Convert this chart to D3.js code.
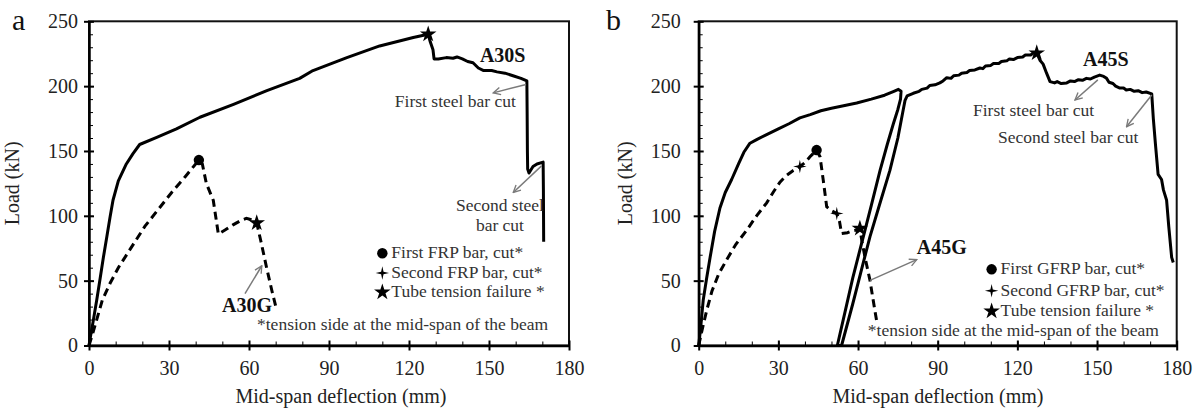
<!DOCTYPE html>
<html>
<head>
<meta charset="utf-8">
<script src="https://cdn.jsdelivr.net/npm/d3@7"></script>
<style>
  body { margin: 0; background: #fff; }
  svg { display: block; font-family: "Liberation Serif", "Times New Roman", serif; }
  .axis path, .axis line { stroke: #000; }
  .axis text { font-family: "Liberation Serif", serif; font-size: 20px; fill: #222; }
</style>
</head>
<body>
<svg class="main" width="1198" height="413"></svg>
<script>
// ticks
const xTickValues = [0, 30, 60, 90, 120, 150, 180];
const yTickValues = [0, 50, 100, 150, 200, 250];

// panel a: load (kN) vs mid-span deflection (mm)
const a30s = [
  [0, 0], [0.8, 10], [1.5, 18], [2.9, 35], [4.2, 52], [5.4, 68], [6.7, 84], [7.9, 99],
  [9, 112], [11, 127], [14, 140], [16.5, 148], [19, 155], [25.4, 160.5], [32.8, 167],
  [41.6, 176], [54.2, 186], [66.7, 196.5], [79, 206], [84, 212], [96.7, 222], [109, 231],
  [121.6, 237.5], [127.2, 240], [128, 234], [129, 228], [129.4, 221], [131, 221],
  [134, 222], [136.5, 221.5], [138, 222.5], [140, 221], [142, 219], [144, 218],
  [146, 214], [148, 212], [151, 212], [153, 211], [156, 210], [159, 208], [162, 206],
  [164.2, 204], [164.3, 180], [164.4, 150], [164.5, 136], [165, 133], [166.5, 138],
  [168, 140], [170.3, 141.4], [170.4, 120], [170.5, 80]
];
const a30g = [
  [0, 0], [1.5, 10], [2.9, 20], [5, 35], [7.9, 48], [11, 60], [16.6, 78], [21, 92],
  [26, 105], [31, 118], [36, 130], [41.2, 143], [42.5, 140], [44, 125], [46.6, 112],
  [48.5, 86], [51, 89], [54, 93], [57, 96.5], [59, 98], [61, 97], [62.9, 94.5],
  [64.5, 80], [66.6, 60], [68.5, 43], [70.4, 27]
];
const a30Markers = [
  { type: "star", x: 127.2, y: 240 },
  { type: "circle", x: 41.2, y: 143 },
  { type: "star", x: 62.9, y: 94.5 }
];

// panel b
const a45s = [
  [0, 0], [0.8, 15], [1.7, 35], [3, 52], [4.3, 68], [6, 88], [8, 106], [10, 118],
  [12.4, 128], [15, 140], [17, 149], [19.3, 156], [22, 159], [25, 162], [30, 167],
  [34, 171], [38.1, 175.5], [42, 178], [46, 181], [50, 183], [55, 185], [59.5, 187],
  [65, 190], [70, 193], [73.5, 196], [75.2, 197.5], [76.2, 196], [76, 190], [75, 182],
  [73.3, 171], [71, 155], [68.3, 135], [65, 108], [62, 84], [58, 52], [55, 25],
  [52.2, 0], [53.8, 0], [58, 32], [61, 56], [64.5, 84], [68, 108], [72, 135], [75, 160],
  [77, 181.6], [77.7, 189], [78.5, 192.5], [80.8, 194.5], [83, 196], [84, 197.5],
  [86, 198.5], [87, 200.5], [89, 201], [90.8, 202.5], [92, 204], [93.4, 206.5],
  [95, 206], [96, 208], [98, 208.5], [99, 210], [101, 210.5], [102, 212], [104, 212.5],
  [105.9, 214], [107, 213.5], [108, 215.5], [110, 216], [111, 217.5], [113, 217.5],
  [114, 219], [116, 219.5], [117, 221], [118.5, 220.5], [120, 222], [122, 222.5],
  [123, 224], [125, 224], [126, 225.5], [127.3, 225.5], [128.5, 220], [129.7, 217],
  [131, 210], [132.3, 203.5], [134, 202.5], [135, 203.5], [136.5, 202], [138.6, 202.5],
  [140, 204], [141.5, 203.5], [143, 205], [144.5, 204.5], [146, 206], [147.5, 205.5],
  [149, 207], [151, 208.5], [152.5, 207.5], [153.6, 206], [154.5, 203], [156, 202],
  [157, 200], [158.6, 198.5], [160, 198.5], [161, 197], [162.5, 197.5], [164, 196],
  [165.5, 196.5], [167, 195], [168.5, 195.5], [170.6, 194], [171.2, 175], [172, 155],
  [173, 132], [174.3, 128], [175, 120], [176.2, 112], [177, 92], [178.1, 68], [178.7, 64]
];
const a45g = [
  [0, 0], [1.5, 14], [3, 27], [5, 42], [7.5, 55], [10.5, 66], [14, 78], [18.1, 89],
  [21.8, 100], [25.6, 110], [28, 118], [30.6, 126], [33, 131], [35.6, 135], [38.1, 138],
  [40, 141], [41.9, 145.5], [44.4, 150.7], [45.7, 145.5], [46.9, 127.5], [48.2, 107],
  [50, 104], [52, 101.8], [53, 96], [53.8, 86.3], [56, 87], [58, 88.5], [59.5, 89],
  [60.7, 90.2], [61.5, 80], [62.6, 68.3], [64.5, 50.2], [65.7, 35], [67, 19]
];
const a45Markers = [
  { type: "star", x: 127.3, y: 225.5 },
  { type: "circle", x: 44.4, y: 150.7 },
  { type: "plus", x: 38.1, y: 138 },
  { type: "plus", x: 52, y: 101.8 },
  { type: "star", x: 60.7, y: 90.2 }
];

const legendA = ["First FRP bar, cut*", "Second FRP bar, cut*", "Tube tension failure *"];
const legendB = ["First GFRP bar, cut*", "Second GFRP bar, cut*", "Tube tension failure *"];
const footNote = "*tension side at the mid-span of the beam";

const serif = "Liberation Serif, Times New Roman, serif";

// thin four pointed star used for "second bar cut"
const symbolSparkle = {
  draw(ctx, size) {
    const r = Math.sqrt(size) * 0.8;
    const w = r * 0.18;
    ctx.moveTo(0, -r);
    ctx.lineTo(w, -w);
    ctx.lineTo(r, 0);
    ctx.lineTo(w, w);
    ctx.lineTo(0, r);
    ctx.lineTo(-w, w);
    ctx.lineTo(-r, 0);
    ctx.lineTo(-w, -w);
    ctx.closePath();
  }
};

const symbols = {
  circle: d3.symbol().type(d3.symbolCircle).size(85),
  star: d3.symbol().type(d3.symbolStar).size(85),
  plus: d3.symbol().type(symbolSparkle).size(70)
};

const svg = d3.select(".main").attr("font-family", serif);

svg.append("defs")
  .append("marker")
  .attr("id", "arrow")
  .attr("viewBox", "0 0 10 10")
  .attr("refX", 9)
  .attr("refY", 5)
  .attr("markerWidth", 9)
  .attr("markerHeight", 9)
  .attr("markerUnits", "userSpaceOnUse")
  .attr("orient", "auto")
  .append("path")
  .attr("d", "M1,1 L9,5 L1,9")
  .attr("fill", "none")
  .attr("stroke", "#7a7a7a")
  .attr("stroke-width", 1.5);

function drawPanel(p) {
  const x = d3.scaleLinear().domain([0, 180]).range([p.left, p.right]);
  const y = d3.scaleLinear().domain([0, 250]).range([345.5, 21.3]);
  const g = svg.append("g");

  // frame (top/right)
  g.append("rect")
    .attr("x", p.left)
    .attr("y", y(250))
    .attr("width", p.right - p.left)
    .attr("height", y(0) - y(250))
    .attr("fill", "none")
    .attr("stroke", "#111")
    .attr("stroke-width", 2);

  // minor ticks inside
  g.append("g")
    .attr("class", "axis")
    .attr("transform", `translate(0,${y(0)})`)
    .call(d3.axisBottom(x).tickValues(d3.range(0, 181, 10)).tickSize(-4).tickFormat(""))
    .call(s => s.select(".domain").remove());
  g.append("g")
    .attr("class", "axis")
    .attr("transform", `translate(${p.left},0)`)
    .call(d3.axisLeft(y).tickValues(d3.range(0, 251, 10)).tickSize(-4).tickFormat(""))
    .call(s => s.select(".domain").remove());

  // major ticks + labels
  g.append("g")
    .attr("class", "axis")
    .attr("transform", `translate(0,${y(0)})`)
    .call(d3.axisBottom(x).tickValues(xTickValues).tickSizeInner(5).tickSizeOuter(0).tickPadding(10))
    .call(s => s.attr("font-family", serif))
    .call(s => s.select(".domain").attr("stroke-width", 2.5))
    .call(s => s.selectAll(".tick line").attr("y1", -5).attr("stroke-width", 2));
  g.append("g")
    .attr("class", "axis")
    .attr("transform", `translate(${p.left},0)`)
    .call(d3.axisLeft(y).tickValues(yTickValues).tickSizeInner(5).tickSizeOuter(0).tickPadding(p.yPad))
    .call(s => s.attr("font-family", serif))
    .call(s => s.select(".domain").attr("stroke-width", 2.5))
    .call(s => s.selectAll(".tick line").attr("x1", 5).attr("stroke-width", 2));

  // axis titles
  g.append("text")
    .attr("x", p.xTitle)
    .attr("y", 403)
    .attr("text-anchor", "middle")
    .attr("font-size", 20)
    .attr("fill", "#222")
    .text("Mid-span deflection (mm)");
  g.append("text")
    .attr("transform", `translate(${p.yTitle},${y(125)}) rotate(-90)`)
    .attr("text-anchor", "middle")
    .attr("font-size", 20)
    .attr("fill", "#222")
    .text("Load (kN)");

  // panel letter
  g.append("text")
    .attr("x", p.letterX)
    .attr("y", 30)
    .attr("font-size", 30)
    .attr("fill", "#111")
    .text(p.letter);

  const line = d3.line().x(d => x(d[0])).y(d => y(d[1]));

  g.append("path")
    .datum(p.steel)
    .attr("d", line)
    .attr("fill", "none")
    .attr("stroke", "#000")
    .attr("stroke-width", 3)
    .attr("stroke-linejoin", "round");
  g.append("path")
    .datum(p.gfrp)
    .attr("d", line)
    .attr("fill", "none")
    .attr("stroke", "#000")
    .attr("stroke-width", 3)
    .attr("stroke-dasharray", "8,5");

  g.selectAll(".pt")
    .data(p.markers)
    .join("path")
    .attr("transform", d => `translate(${x(d.x)},${y(d.y)})`)
    .attr("d", d => symbols[d.type]())
    .attr("fill", "#000");

  // annotations
  p.notes.forEach(n => {
    g.append("text")
      .attr("x", x(n.x))
      .attr("y", y(n.y))
      .attr("text-anchor", n.anchor || "start")
      .attr("font-size", n.bold ? 20 : 17.5)
      .attr("font-weight", n.bold ? "bold" : "normal")
      .attr("fill", n.bold ? "#111" : "#333")
      .text(n.text);
  });
  p.arrows.forEach(a => {
    g.append("line")
      .attr("x1", x(a[0]))
      .attr("y1", y(a[1]))
      .attr("x2", x(a[2]))
      .attr("y2", y(a[3]))
      .attr("stroke", "#7a7a7a")
      .attr("stroke-width", 1.5)
      .attr("marker-end", "url(#arrow)");
  });

  // legend
  const types = ["circle", "plus", "star"];
  p.legend.forEach((label, i) => {
    g.append("path")
      .attr("transform", `translate(${x(p.legendX)},${y(p.legendY[i]) - 5})`)
      .attr("d", symbols[types[i]]())
      .attr("fill", "#000");
    g.append("text")
      .attr("x", x(p.legendX) + 9)
      .attr("y", y(p.legendY[i]))
      .attr("font-size", 17.5)
      .attr("fill", "#333")
      .text(label);
  });
  g.append("text")
    .attr("x", x(p.footX))
    .attr("y", y(p.footY))
    .attr("font-size", 17.5)
    .attr("fill", "#333")
    .text(footNote);
}

drawPanel({
  letter: "a", letterX: 12, left: 89, right: 569, yPad: 6, xTitle: 341, yTitle: 19,
  steel: a30s, gfrp: a30g, markers: a30Markers,
  legend: legendA, legendX: 110, legendY: [67.3, 52.1, 37.2], footX: 63, footY: 12.3,
  notes: [
    { text: "A30S", x: 146.6, y: 218.5, bold: true },
    { text: "First steel bar cut", x: 114.7, y: 184 },
    { text: "Second steel", x: 154.1, y: 103.8, anchor: "middle" },
    { text: "bar cut", x: 154.1, y: 88.5, anchor: "middle" },
    { text: "A30G", x: 49.9, y: 26.2, bold: true }
  ],
  arrows: [
    [163.9, 201.3, 151.6, 194.8],
    [169.7, 138.5, 159.1, 118],
    [58.5, 40, 64.8, 61.5]
  ]
});

drawPanel({
  letter: "b", letterX: 606, left: 698.7, right: 1176.7, yPad: 13, xTitle: 938, yTitle: 632,
  steel: a45s, gfrp: a45g, markers: a45Markers,
  legend: legendB, legendX: 110.3, legendY: [54.9, 38.4, 22.6], footX: 63.7, footY: 7,
  notes: [
    { text: "A45S", x: 144.7, y: 215.6, bold: true },
    { text: "First steel bar cut", x: 103.3, y: 177 },
    { text: "Second steel bar cut", x: 112.7, y: 156.1 },
    { text: "A45G", x: 82.1, y: 70.3, bold: true }
  ],
  arrows: [
    [150.3, 204.8, 141.7, 189.3],
    [170.6, 193.2, 161.1, 168.7],
    [64.5, 50.2, 82.1, 66.2]
  ]
});
</script>
</body>
</html>
